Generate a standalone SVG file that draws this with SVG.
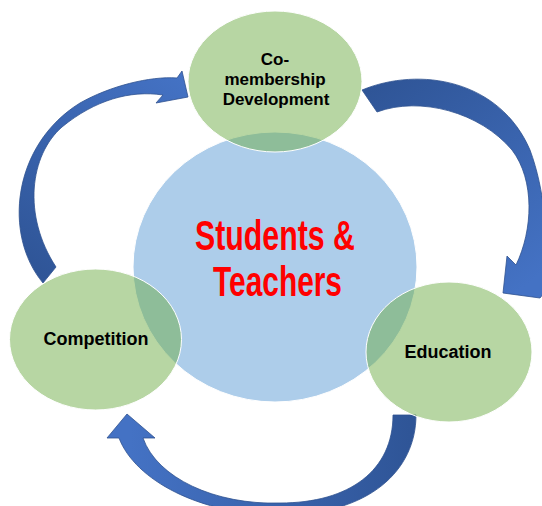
<svg xmlns="http://www.w3.org/2000/svg" width="542" height="506" viewBox="0 0 542 506">
  <defs>
    <linearGradient id="gTR" gradientUnits="userSpaceOnUse" x1="370" y1="90" x2="520" y2="290">
      <stop offset="0" stop-color="#2F5597"/>
      <stop offset="1" stop-color="#4472C4"/>
    </linearGradient>
    <linearGradient id="gL" gradientUnits="userSpaceOnUse" x1="45" y1="280" x2="185" y2="80">
      <stop offset="0" stop-color="#2F5597"/>
      <stop offset="1" stop-color="#4472C4"/>
    </linearGradient>
    <linearGradient id="gB" gradientUnits="userSpaceOnUse" x1="410" y1="440" x2="130" y2="440">
      <stop offset="0" stop-color="#2F5597"/>
      <stop offset="1" stop-color="#4472C4"/>
    </linearGradient>
  </defs>
  <style>
    .hub { fill: #5B9BD5; fill-opacity: 0.5; stroke: #FFFFFF; stroke-width: 1; }
    .node { fill: #70AD47; fill-opacity: 0.5; stroke: #FFFFFF; stroke-width: 1; }
    .arrow { stroke: #2F528F; stroke-width: 0.8; stroke-linejoin: miter; }
    .lbl { font-family: "Liberation Sans", Arial, sans-serif; font-weight: bold; fill: #000000; text-anchor: middle; }
    .hubtxt { font-family: "Liberation Sans", Arial, sans-serif; font-weight: bold; fill: #FF0000; text-anchor: middle; font-size: 42px; }
  </style>
  <rect width="542" height="506" fill="#FFFFFF"/>

  <g id="connectors">
    <path class="arrow" fill="url(#gTR)" d="M362,90 C420,66 500,80 530,150 C545,190 548,240 546,268 L548,288 L540,298 L503,293 L507,256 L516,265 C533,230 535,180 512,150 C480,112 420,96 377,112 Z"/>
    <path class="arrow" fill="url(#gL)" d="M43,283 C3,235 12,145 80,103 C110,86 150,76 177,78 L182,71 L188,97 L156,103 L163,95 C130,90 95,100 62,127 C30,155 22,215 56,267 Z"/>
    <path class="arrow" fill="url(#gB)" d="M393,415 L416,415 C416,470 370,515 280,515 C200,515 135,480 119,438 L107,438 L127,414 L155,438 L143,438 C157,478 215,505 280,503 C350,503 393,470 393,415 Z"/>
  </g>

  <g id="hub">
    <ellipse class="hub" cx="275" cy="267" rx="142" ry="135"/>
  </g>

  <g id="node-comembership">
    <ellipse class="node" cx="275" cy="81.5" rx="87" ry="70.5"/>
    <text class="lbl" font-size="17" x="275" y="65">Co-</text>
    <text class="lbl" font-size="17" x="275" y="85">membership</text>
    <text class="lbl" font-size="17" x="276" y="105">Development</text>
  </g>

  <g id="node-competition">
    <ellipse class="node" cx="95.5" cy="339.5" rx="86" ry="70.5"/>
    <text class="lbl" font-size="18" x="96" y="345">Competition</text>
  </g>

  <g id="node-education">
    <ellipse class="node" cx="449" cy="352" rx="83" ry="70"/>
    <text class="lbl" font-size="18" x="448" y="358">Education</text>
  </g>

  <g id="hub-label">
    <text class="hubtxt" x="275" y="250" textLength="160" lengthAdjust="spacingAndGlyphs">Students &amp;</text>
    <text class="hubtxt" x="277.5" y="296" textLength="129" lengthAdjust="spacingAndGlyphs">Teachers</text>
  </g>
</svg>
